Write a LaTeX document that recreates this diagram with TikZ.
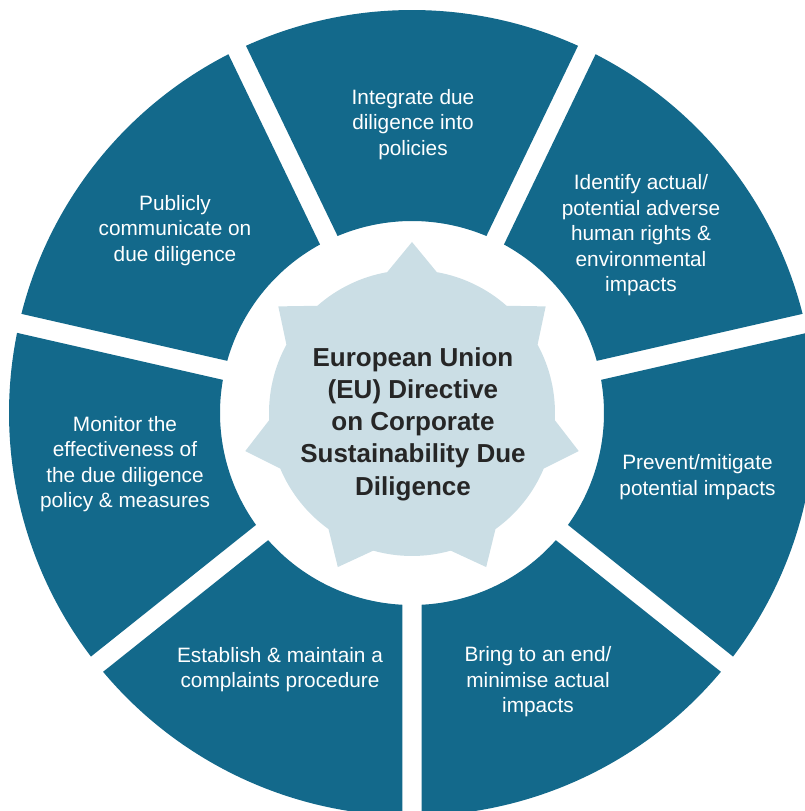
\documentclass[tikz,border=0pt]{standalone}
\usepackage{fontspec}
\setmainfont{Liberation Sans}
\usepackage{tikz}
\usetikzlibrary{positioning}
\usepackage{xcolor}
\definecolor{ringblue}{RGB}{19,105,139}
\definecolor{starblue}{RGB}{203,222,229}
\definecolor{darktext}{RGB}{38,38,38}

% ring geometry (in pt)
\newcommand{\Rout}{403}
\newcommand{\Rin}{192}
\newcommand{\segangle}{51.4286}

\begin{document}
\begin{tikzpicture}[
  x=1pt, y=1pt,
  segment/.style={fill=ringblue},
  star/.style={fill=starblue},
  segtext/.style={text=white, align=center, inner sep=0pt,
    font=\fontsize{20.8}{25.5}\selectfont},
  maintext/.style={text=darktext, align=center, inner sep=0pt,
    font=\fontsize{26}{32.2}\selectfont\bfseries}
]
\useasboundingbox (-412,-398) rectangle (393,413);

% Ring segments, 7 of them with parallel white gaps (half gap 9.75pt)
\pgfmathsetmacro{\dout}{asin(9.75/\Rout)}
\pgfmathsetmacro{\din}{asin(9.75/\Rin)}
\foreach \k in {0,...,6}{
  \pgfmathsetmacro{\bis}{90-\k*\segangle}
  \pgfmathsetmacro{\sa}{\bis-\segangle/2+\dout}
  \pgfmathsetmacro{\ea}{\bis+\segangle/2-\dout}
  \pgfmathsetmacro{\si}{\bis+\segangle/2-\din}
  \pgfmathsetmacro{\ei}{\bis-\segangle/2+\din}
  \fill[segment] (\sa:\Rout) arc[start angle=\sa, end angle=\ea, radius=\Rout]
    -- (\si:\Rin) arc[start angle=\si, end angle=\ei, radius=\Rin] -- cycle;
}

% Centre star
\fill[star] (80:143)
  \foreach \i in {0,...,6}{
    -- ({90+\i*\segangle}:171) -- ({100+\i*\segangle}:143)
    arc[start angle={100+\i*\segangle}, end angle={80+(\i+1)*\segangle}, radius=143]
  } -- cycle;

\node[maintext] (directive) at (1,-11)
  {European Union\\(EU) Directive\\on Corporate\\Sustainability Due\\Diligence};

% Segment labels
\node[segtext] (integrate) at (1,288.5)   {Integrate due\\diligence into\\policies};
\node[segtext] (identify)  at (229,177.5) {Identify actual/\\potential adverse\\human rights \&\\environmental\\impacts};
\node[segtext] (prevent)   at (285.5,-64) {Prevent/mitigate\\potential impacts};
\node[segtext] (bring)     at (126,-269)  {Bring to an end/\\minimise actual\\impacts};
\node[segtext] (establish) at (-132,-256.5) {Establish \& maintain a\\complaints procedure};
\node[segtext] (monitor)   at (-287,-51)  {Monitor the\\effectiveness of\\the due diligence\\policy \& measures};
\node[segtext] (publicly)  at (-237,182.5) {Publicly\\communicate on\\due diligence};

\end{tikzpicture}
\end{document}
